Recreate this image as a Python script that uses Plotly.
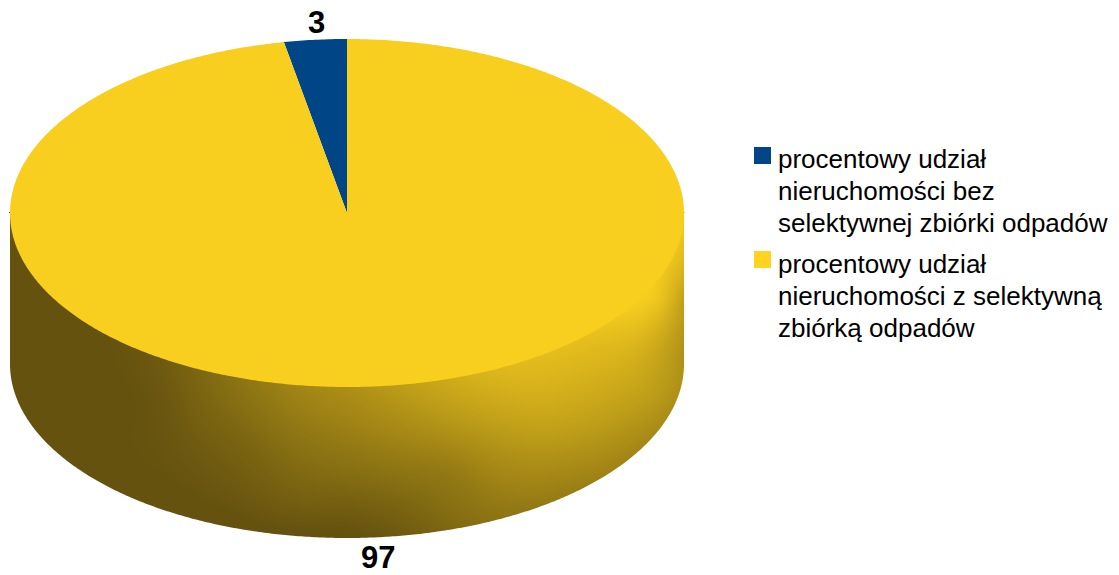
import numpy as np
import plotly.graph_objects as go

category_lines = [
    ["procentowy udział", "nieruchomości bez", "selektywnej zbiórki odpadów"],
    ["procentowy udział", "nieruchomości z selektywną", "zbiórką odpadów"],
]
values = [3, 97]
colors = ["#004586", "#F9CF1F"]
key_colors = ["#004586", "#FFD320"]

W, H = 1119, 575
CX, CY, RX, RY, DEPTH = 347.0, 213.0, 337.0, 174.0, 151.0

# Brightness of the side wall: x, y, brightness (0 dark .. 1 top colour)
wall_x = [10, 60, 100, 130, 100, 200, 170, 200, 250, 300, 300, 340, 340, 400, 400, 450, 450, 500, 500,
          560, 600, 640, 660, 670, 680, 684, 684, 684, 660, 640, 600, 560, 300, 400, 450, 550]
wall_y = [250, 350, 450, 400, 300, 500, 400, 400, 450, 400, 500, 395, 530, 450, 520, 470, 520, 400, 500,
          480, 450, 440, 400, 400, 390, 350, 300, 240, 300, 290, 340, 370, 530, 400, 420, 420]
wall_b = [0, 0, 0, 0, 0, 0, 0.05, 0.14, 0.14, 0.38, 0.11, 0.45, 0, 0.36, 0.10, 0.32, 0.2, 0.71, 0.33,
          0.40, 0.49, 0.45, 0.56, 0.5, 0.5, 0.5, 0.6, 0.9, 0.92, 1.0, 0.85, 0.8, 0, 0.55, 0.56, 0.66]


def wedge(start_frac, end_frac):
    # Clockwise from 12 o'clock on the tilted disc
    n = max(int(abs(end_frac - start_frac) * 720), 4)
    a = 2 * np.pi * np.linspace(start_frac, end_frac, n)
    xs = CX + RX * np.sin(a)
    ys = CY - RY * np.cos(a)
    return np.r_[CX, xs, CX], np.r_[CY, ys, CY]


def tps(r):
    return np.where(r > 0, r * r * np.log(r + 1e-9), 0.0)


def wall_shade(gx, gy):
    px = np.array(wall_x, float) / 100
    py = np.array(wall_y, float) / 100
    pb = np.array(wall_b, float)
    n = len(px)
    K = tps(np.hypot(px[:, None] - px, py[:, None] - py)) + 0.02 * np.eye(n)
    P = np.c_[np.ones(n), px, py]
    A = np.block([[K, P], [P.T, np.zeros((3, 3))]])
    sol = np.linalg.solve(A, np.r_[pb, np.zeros(3)])
    XX, YY = np.meshgrid(gx / 100, gy / 100)
    Z = sum(sol[i] * tps(np.hypot(XX - px[i], YY - py[i])) for i in range(n))
    Z = Z + sol[n] + sol[n + 1] * XX + sol[n + 2] * YY
    return np.clip(Z, 0, 1)


gx = np.arange(CX - RX, CX + RX + 1, 2.0)
gy = np.arange(CY, CY + DEPTH + RY + 3, 2.0)

fig = go.Figure()
fig.add_trace(go.Heatmap(
    x=gx, y=gy, z=wall_shade(gx, gy), zmin=0, zmax=1, zsmooth="best", showscale=False, hoverinfo="skip",
    colorscale=[[0, "#65520F"], [1, "#F9CF1F"]],
))

# White cover that gives the wall its antialiased lower rim and straight sides
arc = np.linspace(-np.pi / 2, np.pi / 2, 400)
mx = CX + RX * np.sin(arc)
my = CY + DEPTH + RY * np.cos(arc)
R_OUT, L_OUT = CX + RX + 6, CX - RX - 6
fig.add_trace(go.Scatter(
    x=np.r_[mx, CX + RX, R_OUT, R_OUT, L_OUT, L_OUT, CX - RX, CX - RX],
    y=np.r_[my, CY, CY, H, H, CY, CY, my[0]],
    fill="toself", fillcolor="white", mode="none", hoverinfo="skip", showlegend=False,
))

# Top disc: the small slice ends at 12 o'clock, the large one runs clockwise from there
fractions = np.array(values) / sum(values)
starts = [-fractions[0], 0.0]
for i, (f, col) in enumerate(zip(fractions, colors)):
    x, y = wedge(starts[i], starts[i] + f)
    fig.add_trace(go.Scatter(
        x=x, y=y, fill="toself", fillcolor=col, mode="none",
        name=" ".join(category_lines[i]), showlegend=False,
    ))

annotations = [
    dict(x=316, y=22, text=f"<b>{values[0]}</b>", font=dict(size=31)),
    dict(x=378, y=557, text=f"<b>{values[1]}</b>", font=dict(size=31)),
]
first_line_y = [159, 264]
for lines, y0 in zip(category_lines, first_line_y):
    for k, line in enumerate(lines):
        annotations.append(dict(x=777, y=y0 + 32 * k, text=line, font=dict(size=26), xanchor="left", align="left"))
for a in annotations:
    a.update(xref="x", yref="y", showarrow=False, borderpad=0)
    a["font"].update(family="Liberation Sans", color="black")

key_y = [147, 251]
shapes = [
    dict(type="rect", xref="x", yref="y", x0=754, x1=771, y0=ky, y1=ky + 17,
         fillcolor=c, line_width=0, layer="above")
    for ky, c in zip(key_y, key_colors)
]

fig.update_layout(
    width=W, height=H, margin=dict(l=0, r=0, t=0, b=0),
    paper_bgcolor="white", plot_bgcolor="white", showlegend=False,
    xaxis=dict(range=[0, W], visible=False, fixedrange=True),
    yaxis=dict(range=[H, 0], visible=False, fixedrange=True),
    annotations=annotations, shapes=shapes,
)
fig.write_html("out.html", post_script="document.body.style.margin='0';", config=dict(displayModeBar=False))
